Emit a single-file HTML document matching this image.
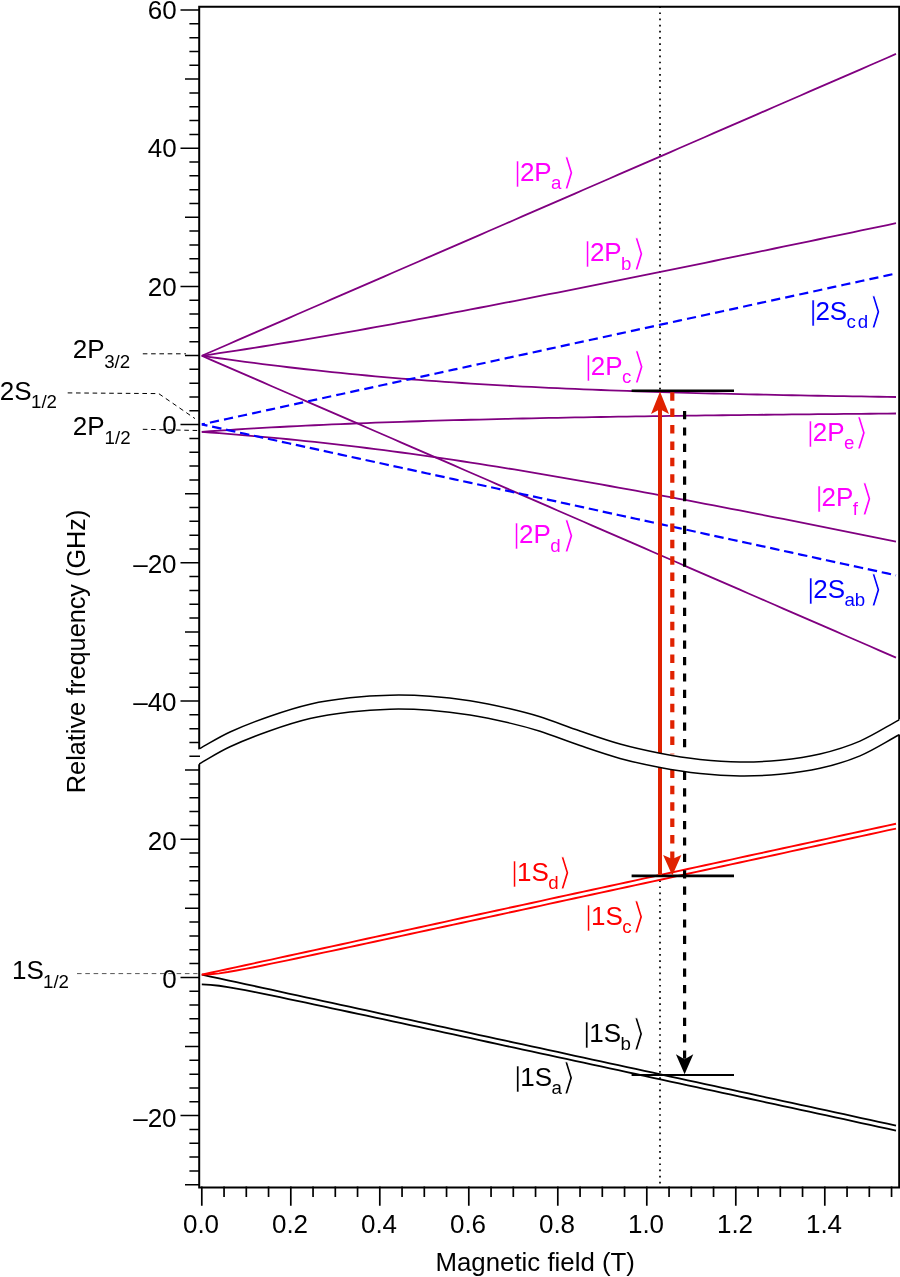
<!DOCTYPE html>
<html lang="en"><head><meta charset="utf-8"><title>Energy levels versus magnetic field</title>
<style>html,body{margin:0;padding:0;background:#fff}svg{display:block}text{font-family:"Liberation Sans","DejaVu Sans",sans-serif}.t{font-size:26px}.s{font-size:18.7px}.k{font-family:"DejaVu Sans",sans-serif;font-size:36.2px;stroke:#fff;stroke-width:1.15px}.v{font-size:27.6px;stroke:#fff;stroke-width:.55px}</style></head><body>
<svg width="900" height="1277" viewBox="0 0 900 1277">
<rect width="900" height="1277" fill="#fff"/>
<line x1="660" y1="6.25" x2="660" y2="1187" stroke="#000" stroke-width="1.7" stroke-dasharray="1.7 4.455"/>
<path d="M142.8 353.8H186" stroke="#000" stroke-width="1" fill="none" stroke-dasharray="4.6 3.7"/>
<path d="M67.7 392.9L158.7 393.6L195 418.6" stroke="#000" stroke-width="1" fill="none" stroke-dasharray="4.6 3.7"/>
<path d="M142.8 429.3L197.5 430.5" stroke="#000" stroke-width="1" fill="none" stroke-dasharray="4.6 3.7"/>
<path d="M77 973.6H197.5" stroke="#555" stroke-width="1" fill="none" stroke-dasharray="4.6 3.7"/>
<polyline points="201.80,355.78 210.48,352.01 219.16,348.24 227.83,344.47 236.51,340.69 245.19,336.92 253.87,333.15 262.54,329.37 271.22,325.60 279.90,321.83 288.58,318.06 297.25,314.28 305.93,310.51 314.61,306.74 323.29,302.96 331.96,299.19 340.64,295.42 349.32,291.65 358.00,287.87 366.67,284.10 375.35,280.33 384.03,276.55 392.71,272.78 401.38,269.01 410.06,265.24 418.74,261.46 427.42,257.69 436.09,253.92 444.77,250.14 453.45,246.37 462.13,242.60 470.80,238.83 479.48,235.05 488.16,231.28 496.84,227.51 505.51,223.73 514.19,219.96 522.87,216.19 531.55,212.42 540.22,208.64 548.90,204.87 557.58,201.10 566.25,197.32 574.93,193.55 583.61,189.78 592.29,186.00 600.97,182.23 609.64,178.46 618.32,174.69 627.00,170.91 635.67,167.14 644.35,163.37 653.03,159.59 661.71,155.82 670.39,152.05 679.06,148.28 687.74,144.50 696.42,140.73 705.10,136.96 713.77,133.18 722.45,129.41 731.13,125.64 739.81,121.87 748.48,118.09 757.16,114.32 765.84,110.55 774.52,106.77 783.19,103.00 791.87,99.23 800.55,95.46 809.22,91.68 817.90,87.91 826.58,84.14 835.26,80.36 843.93,76.59 852.61,72.82 861.29,69.05 869.97,65.27 878.64,61.50 887.32,57.73 896.00,53.95" fill="none" stroke="#800080" stroke-width="1.8"/>
<polyline points="201.80,355.78 210.48,354.52 219.16,353.23 227.83,351.92 236.51,350.59 245.19,349.25 253.87,347.88 262.54,346.50 271.22,345.10 279.90,343.69 288.58,342.26 297.25,340.81 305.93,339.35 314.61,337.88 323.29,336.39 331.96,334.89 340.64,333.37 349.32,331.85 358.00,330.31 366.67,328.76 375.35,327.20 384.03,325.63 392.71,324.04 401.38,322.45 410.06,320.85 418.74,319.24 427.42,317.62 436.09,316.00 444.77,314.36 453.45,312.72 462.13,311.07 470.80,309.42 479.48,307.75 488.16,306.08 496.84,304.41 505.51,302.72 514.19,301.04 522.87,299.34 531.55,297.64 540.22,295.94 548.90,294.23 557.58,292.52 566.25,290.80 574.93,289.07 583.61,287.35 592.29,285.61 600.97,283.88 609.64,282.14 618.32,280.40 627.00,278.65 635.67,276.90 644.35,275.14 653.03,273.39 661.71,271.63 670.39,269.86 679.06,268.10 687.74,266.33 696.42,264.56 705.10,262.78 713.77,261.00 722.45,259.22 731.13,257.44 739.81,255.66 748.48,253.87 757.16,252.08 765.84,250.29 774.52,248.50 783.19,246.70 791.87,244.91 800.55,243.11 809.22,241.31 817.90,239.50 826.58,237.70 835.26,235.89 843.93,234.09 852.61,232.28 861.29,230.47 869.97,228.66 878.64,226.84 887.32,225.03 896.00,223.21" fill="none" stroke="#800080" stroke-width="1.8"/>
<polyline points="201.80,355.78 210.48,357.03 219.16,358.26 227.83,359.46 236.51,360.64 245.19,361.80 253.87,362.94 262.54,364.05 271.22,365.14 279.90,366.20 288.58,367.24 297.25,368.26 305.93,369.25 314.61,370.22 323.29,371.16 331.96,372.08 340.64,372.97 349.32,373.84 358.00,374.68 366.67,375.50 375.35,376.29 384.03,377.07 392.71,377.81 401.38,378.54 410.06,379.24 418.74,379.92 427.42,380.58 436.09,381.21 444.77,381.83 453.45,382.43 462.13,383.00 470.80,383.56 479.48,384.10 488.16,384.62 496.84,385.12 505.51,385.61 514.19,386.08 522.87,386.53 531.55,386.97 540.22,387.40 548.90,387.81 557.58,388.20 566.25,388.59 574.93,388.96 583.61,389.31 592.29,389.66 600.97,390.00 609.64,390.32 618.32,390.63 627.00,390.94 635.67,391.23 644.35,391.52 653.03,391.79 661.71,392.06 670.39,392.32 679.06,392.57 687.74,392.82 696.42,393.05 705.10,393.28 713.77,393.50 722.45,393.72 731.13,393.93 739.81,394.13 748.48,394.33 757.16,394.52 765.84,394.71 774.52,394.89 783.19,395.07 791.87,395.24 800.55,395.41 809.22,395.57 817.90,395.73 826.58,395.88 835.26,396.03 843.93,396.18 852.61,396.32 861.29,396.46 869.97,396.59 878.64,396.73 887.32,396.86 896.00,396.98" fill="none" stroke="#800080" stroke-width="1.8"/>
<polyline points="201.80,355.78 210.48,359.56 219.16,363.33 227.83,367.10 236.51,370.88 245.19,374.65 253.87,378.42 262.54,382.19 271.22,385.97 279.90,389.74 288.58,393.51 297.25,397.29 305.93,401.06 314.61,404.83 323.29,408.60 331.96,412.38 340.64,416.15 349.32,419.92 358.00,423.70 366.67,427.47 375.35,431.24 384.03,435.01 392.71,438.79 401.38,442.56 410.06,446.33 418.74,450.11 427.42,453.88 436.09,457.65 444.77,461.42 453.45,465.20 462.13,468.97 470.80,472.74 479.48,476.52 488.16,480.29 496.84,484.06 505.51,487.83 514.19,491.61 522.87,495.38 531.55,499.15 540.22,502.93 548.90,506.70 557.58,510.47 566.25,514.24 574.93,518.02 583.61,521.79 592.29,525.56 600.97,529.34 609.64,533.11 618.32,536.88 627.00,540.65 635.67,544.43 644.35,548.20 653.03,551.97 661.71,555.75 670.39,559.52 679.06,563.29 687.74,567.06 696.42,570.84 705.10,574.61 713.77,578.38 722.45,582.16 731.13,585.93 739.81,589.70 748.48,593.47 757.16,597.25 765.84,601.02 774.52,604.79 783.19,608.57 791.87,612.34 800.55,616.11 809.22,619.88 817.90,623.66 826.58,627.43 835.26,631.20 843.93,634.98 852.61,638.75 861.29,642.52 869.97,646.29 878.64,650.07 887.32,653.84 896.00,657.61" fill="none" stroke="#800080" stroke-width="1.8"/>
<polyline points="201.80,431.86 210.48,431.24 219.16,430.65 227.83,430.07 236.51,429.51 245.19,428.97 253.87,428.44 262.54,427.94 271.22,427.45 279.90,426.98 288.58,426.52 297.25,426.08 305.93,425.66 314.61,425.25 323.29,424.85 331.96,424.46 340.64,424.09 349.32,423.73 358.00,423.38 366.67,423.05 375.35,422.72 384.03,422.41 392.71,422.10 401.38,421.81 410.06,421.52 418.74,421.24 427.42,420.97 436.09,420.71 444.77,420.46 453.45,420.22 462.13,419.98 470.80,419.75 479.48,419.53 488.16,419.31 496.84,419.10 505.51,418.90 514.19,418.70 522.87,418.51 531.55,418.32 540.22,418.14 548.90,417.96 557.58,417.79 566.25,417.62 574.93,417.46 583.61,417.30 592.29,417.14 600.97,416.99 609.64,416.85 618.32,416.70 627.00,416.56 635.67,416.43 644.35,416.29 653.03,416.17 661.71,416.04 670.39,415.92 679.06,415.80 687.74,415.68 696.42,415.56 705.10,415.45 713.77,415.34 722.45,415.24 731.13,415.13 739.81,415.03 748.48,414.93 757.16,414.83 765.84,414.74 774.52,414.64 783.19,414.55 791.87,414.46 800.55,414.37 809.22,414.29 817.90,414.21 826.58,414.12 835.26,414.04 843.93,413.96 852.61,413.89 861.29,413.81 869.97,413.74 878.64,413.66 887.32,413.59 896.00,413.52" fill="none" stroke="#800080" stroke-width="1.8"/>
<polyline points="201.80,431.86 210.48,432.50 219.16,433.16 227.83,433.85 236.51,434.55 245.19,435.28 253.87,436.03 262.54,436.80 271.22,437.60 279.90,438.42 288.58,439.27 297.25,440.14 305.93,441.03 314.61,441.95 323.29,442.90 331.96,443.87 340.64,444.86 349.32,445.88 358.00,446.92 366.67,447.99 375.35,449.08 384.03,450.20 392.71,451.33 401.38,452.50 410.06,453.68 418.74,454.89 427.42,456.12 436.09,457.37 444.77,458.64 453.45,459.93 462.13,461.24 470.80,462.57 479.48,463.91 488.16,465.28 496.84,466.66 505.51,468.06 514.19,469.48 522.87,470.91 531.55,472.36 540.22,473.82 548.90,475.30 557.58,476.79 566.25,478.29 574.93,479.81 583.61,481.33 592.29,482.87 600.97,484.43 609.64,485.99 618.32,487.56 627.00,489.14 635.67,490.73 644.35,492.34 653.03,493.95 661.71,495.57 670.39,497.19 679.06,498.83 687.74,500.47 696.42,502.12 705.10,503.78 713.77,505.44 722.45,507.11 731.13,508.79 739.81,510.47 748.48,512.16 757.16,513.86 765.84,515.56 774.52,517.26 783.19,518.97 791.87,520.69 800.55,522.40 809.22,524.13 817.90,525.86 826.58,527.59 835.26,529.33 843.93,531.07 852.61,532.81 861.29,534.56 869.97,536.31 878.64,538.06 887.32,539.82 896.00,541.58" fill="none" stroke="#800080" stroke-width="1.8"/>
<polyline points="201.80,424.40 210.48,422.51 219.16,420.63 227.83,418.74 236.51,416.85 245.19,414.97 253.87,413.08 262.54,411.19 271.22,409.31 279.90,407.42 288.58,405.54 297.25,403.65 305.93,401.76 314.61,399.88 323.29,397.99 331.96,396.10 340.64,394.22 349.32,392.33 358.00,390.44 366.67,388.56 375.35,386.67 384.03,384.78 392.71,382.90 401.38,381.01 410.06,379.13 418.74,377.24 427.42,375.35 436.09,373.47 444.77,371.58 453.45,369.69 462.13,367.81 470.80,365.92 479.48,364.03 488.16,362.15 496.84,360.26 505.51,358.37 514.19,356.49 522.87,354.60 531.55,352.72 540.22,350.83 548.90,348.94 557.58,347.06 566.25,345.17 574.93,343.28 583.61,341.40 592.29,339.51 600.97,337.62 609.64,335.74 618.32,333.85 627.00,331.96 635.67,330.08 644.35,328.19 653.03,326.31 661.71,324.42 670.39,322.53 679.06,320.65 687.74,318.76 696.42,316.87 705.10,314.99 713.77,313.10 722.45,311.21 731.13,309.33 739.81,307.44 748.48,305.55 757.16,303.67 765.84,301.78 774.52,299.90 783.19,298.01 791.87,296.12 800.55,294.24 809.22,292.35 817.90,290.46 826.58,288.58 835.26,286.69 843.93,284.80 852.61,282.92 861.29,281.03 869.97,279.14 878.64,277.26 887.32,275.37 896.00,273.49" fill="none" stroke="#0000ff" stroke-width="2.2" stroke-dasharray="9.2 5.158" stroke-dashoffset="-8.36"/>
<polyline points="201.80,424.40 210.48,426.29 219.16,428.17 227.83,430.06 236.51,431.95 245.19,433.83 253.87,435.72 262.54,437.61 271.22,439.49 279.90,441.38 288.58,443.26 297.25,445.15 305.93,447.04 314.61,448.92 323.29,450.81 331.96,452.70 340.64,454.58 349.32,456.47 358.00,458.36 366.67,460.24 375.35,462.13 384.03,464.02 392.71,465.90 401.38,467.79 410.06,469.67 418.74,471.56 427.42,473.45 436.09,475.33 444.77,477.22 453.45,479.11 462.13,480.99 470.80,482.88 479.48,484.77 488.16,486.65 496.84,488.54 505.51,490.43 514.19,492.31 522.87,494.20 531.55,496.08 540.22,497.97 548.90,499.86 557.58,501.74 566.25,503.63 574.93,505.52 583.61,507.40 592.29,509.29 600.97,511.18 609.64,513.06 618.32,514.95 627.00,516.84 635.67,518.72 644.35,520.61 653.03,522.49 661.71,524.38 670.39,526.27 679.06,528.15 687.74,530.04 696.42,531.93 705.10,533.81 713.77,535.70 722.45,537.59 731.13,539.47 739.81,541.36 748.48,543.25 757.16,545.13 765.84,547.02 774.52,548.90 783.19,550.79 791.87,552.68 800.55,554.56 809.22,556.45 817.90,558.34 826.58,560.22 835.26,562.11 843.93,564.00 852.61,565.88 861.29,567.77 869.97,569.66 878.64,571.54 887.32,573.43 896.00,575.31" fill="none" stroke="#0000ff" stroke-width="2.2" stroke-dasharray="9.5 4.776" stroke-dashoffset="-10.56"/>
<polyline points="201.80,974.65 210.48,976.53 219.16,978.42 227.83,980.31 236.51,982.19 245.19,984.08 253.87,985.97 262.54,987.85 271.22,989.74 279.90,991.62 288.58,993.51 297.25,995.40 305.93,997.28 314.61,999.17 323.29,1001.06 331.96,1002.94 340.64,1004.83 349.32,1006.72 358.00,1008.60 366.67,1010.49 375.35,1012.38 384.03,1014.26 392.71,1016.15 401.38,1018.03 410.06,1019.92 418.74,1021.81 427.42,1023.69 436.09,1025.58 444.77,1027.47 453.45,1029.35 462.13,1031.24 470.80,1033.13 479.48,1035.01 488.16,1036.90 496.84,1038.79 505.51,1040.67 514.19,1042.56 522.87,1044.44 531.55,1046.33 540.22,1048.22 548.90,1050.10 557.58,1051.99 566.25,1053.88 574.93,1055.76 583.61,1057.65 592.29,1059.54 600.97,1061.42 609.64,1063.31 618.32,1065.20 627.00,1067.08 635.67,1068.97 644.35,1070.85 653.03,1072.74 661.71,1074.63 670.39,1076.51 679.06,1078.40 687.74,1080.29 696.42,1082.17 705.10,1084.06 713.77,1085.95 722.45,1087.83 731.13,1089.72 739.81,1091.61 748.48,1093.49 757.16,1095.38 765.84,1097.26 774.52,1099.15 783.19,1101.04 791.87,1102.92 800.55,1104.81 809.22,1106.70 817.90,1108.58 826.58,1110.47 835.26,1112.36 843.93,1114.24 852.61,1116.13 861.29,1118.02 869.97,1119.90 878.64,1121.79 887.32,1123.67 896.00,1125.56" fill="none" stroke="#000" stroke-width="1.8"/>
<polyline points="201.80,984.46 210.48,984.81 219.16,985.74 227.83,987.04 236.51,988.55 245.19,990.18 253.87,991.89 262.54,993.64 271.22,995.42 279.90,997.23 288.58,999.04 297.25,1000.88 305.93,1002.72 314.61,1004.56 323.29,1006.41 331.96,1008.27 340.64,1010.13 349.32,1012.00 358.00,1013.86 366.67,1015.73 375.35,1017.60 384.03,1019.47 392.71,1021.34 401.38,1023.22 410.06,1025.09 418.74,1026.97 427.42,1028.84 436.09,1030.72 444.77,1032.60 453.45,1034.48 462.13,1036.36 470.80,1038.24 479.48,1040.12 488.16,1042.00 496.84,1043.88 505.51,1045.76 514.19,1047.64 522.87,1049.52 531.55,1051.41 540.22,1053.29 548.90,1055.17 557.58,1057.05 566.25,1058.93 574.93,1060.82 583.61,1062.70 592.29,1064.58 600.97,1066.47 609.64,1068.35 618.32,1070.23 627.00,1072.12 635.67,1074.00 644.35,1075.89 653.03,1077.77 661.71,1079.65 670.39,1081.54 679.06,1083.42 687.74,1085.31 696.42,1087.19 705.10,1089.08 713.77,1090.96 722.45,1092.85 731.13,1094.73 739.81,1096.61 748.48,1098.50 757.16,1100.38 765.84,1102.27 774.52,1104.15 783.19,1106.04 791.87,1107.92 800.55,1109.81 809.22,1111.69 817.90,1113.58 826.58,1115.46 835.26,1117.35 843.93,1119.24 852.61,1121.12 861.29,1123.01 869.97,1124.89 878.64,1126.78 887.32,1128.66 896.00,1130.55" fill="none" stroke="#000" stroke-width="1.8"/>
<polyline points="201.80,974.65 210.48,972.76 219.16,970.87 227.83,968.99 236.51,967.10 245.19,965.21 253.87,963.33 262.54,961.44 271.22,959.56 279.90,957.67 288.58,955.78 297.25,953.90 305.93,952.01 314.61,950.12 323.29,948.24 331.96,946.35 340.64,944.46 349.32,942.58 358.00,940.69 366.67,938.80 375.35,936.92 384.03,935.03 392.71,933.15 401.38,931.26 410.06,929.37 418.74,927.49 427.42,925.60 436.09,923.71 444.77,921.83 453.45,919.94 462.13,918.05 470.80,916.17 479.48,914.28 488.16,912.39 496.84,910.51 505.51,908.62 514.19,906.74 522.87,904.85 531.55,902.96 540.22,901.08 548.90,899.19 557.58,897.30 566.25,895.42 574.93,893.53 583.61,891.64 592.29,889.76 600.97,887.87 609.64,885.98 618.32,884.10 627.00,882.21 635.67,880.33 644.35,878.44 653.03,876.55 661.71,874.67 670.39,872.78 679.06,870.89 687.74,869.01 696.42,867.12 705.10,865.23 713.77,863.35 722.45,861.46 731.13,859.57 739.81,857.69 748.48,855.80 757.16,853.92 765.84,852.03 774.52,850.14 783.19,848.26 791.87,846.37 800.55,844.48 809.22,842.60 817.90,840.71 826.58,838.82 835.26,836.94 843.93,835.05 852.61,833.16 861.29,831.28 869.97,829.39 878.64,827.51 887.32,825.62 896.00,823.73" fill="none" stroke="#ff0000" stroke-width="1.9"/>
<polyline points="201.80,974.65 210.48,974.30 219.16,973.36 227.83,972.06 236.51,970.55 245.19,968.92 253.87,967.22 262.54,965.47 271.22,963.68 279.90,961.88 288.58,960.06 297.25,958.23 305.93,956.39 314.61,954.54 323.29,952.69 331.96,950.83 340.64,948.97 349.32,947.11 358.00,945.24 366.67,943.38 375.35,941.51 384.03,939.64 392.71,937.76 401.38,935.89 410.06,934.01 418.74,932.14 427.42,930.26 436.09,928.38 444.77,926.51 453.45,924.63 462.13,922.75 470.80,920.87 479.48,918.99 488.16,917.11 496.84,915.23 505.51,913.35 514.19,911.46 522.87,909.58 531.55,907.70 540.22,905.82 548.90,903.94 557.58,902.05 566.25,900.17 574.93,898.29 583.61,896.41 592.29,894.52 600.97,892.64 609.64,890.76 618.32,888.87 627.00,886.99 635.67,885.10 644.35,883.22 653.03,881.34 661.71,879.45 670.39,877.57 679.06,875.68 687.74,873.80 696.42,871.91 705.10,870.03 713.77,868.15 722.45,866.26 731.13,864.38 739.81,862.49 748.48,860.61 757.16,858.72 765.84,856.84 774.52,854.95 783.19,853.07 791.87,851.18 800.55,849.30 809.22,847.41 817.90,845.53 826.58,843.64 835.26,841.76 843.93,839.87 852.61,837.99 861.29,836.10 869.97,834.22 878.64,832.33 887.32,830.44 896.00,828.56" fill="none" stroke="#ff0000" stroke-width="1.9"/>
<line x1="631.6" y1="390.7" x2="734" y2="390.7" stroke="#000" stroke-width="2.4"/>
<line x1="631.6" y1="875.9" x2="734" y2="875.9" stroke="#000" stroke-width="2.8"/>
<line x1="631.6" y1="1075.0" x2="734" y2="1075.0" stroke="#000" stroke-width="2.2"/>
<line x1="660" y1="875" x2="660" y2="405" stroke="#e02200" stroke-width="4"/>
<path d="M660.0 391.6L651.0 414.0L660.0 409.2L669.0 414.0Z" fill="#e02200"/>
<line x1="672.3" y1="392.2" x2="672.3" y2="750" stroke="#e02200" stroke-width="4.2" stroke-dasharray="8.5 7.9"/>
<rect x="670.2" y="753" width="4.2" height="2.2" fill="#f7a999"/>
<line x1="672.3" y1="769.4" x2="672.3" y2="860" stroke="#e02200" stroke-width="4.2" stroke-dasharray="8.5 7.9"/>
<path d="M672.3 875.4L663.1 854.9L672.3 858.9L681.4 854.9Z" fill="#e02200"/>
<line x1="684.6" y1="411" x2="684.6" y2="750" stroke="#000" stroke-width="3.2" stroke-dasharray="8.2 8.2"/>
<line x1="684.6" y1="771.8" x2="684.6" y2="1060" stroke="#000" stroke-width="3.2" stroke-dasharray="8.2 8.2"/>
<path d="M684.6 1074.2L675.9 1054.2L684.6 1059.2L693.3 1054.2Z" fill="#000"/>
<path d="M199.2 6.8H899.2V1187.4H199.2Z" fill="none" stroke="#000" stroke-width="2"/>
<path d="M196.20 750.70C207.47 744.47 217.70 737.75 230.00 732.00C242.30 726.25 256.67 720.83 270.00 716.20C283.33 711.57 296.67 707.27 310.00 704.20C323.33 701.13 336.67 699.30 350.00 697.80C363.33 696.30 376.67 695.47 390.00 695.20C403.33 694.93 416.67 695.27 430.00 696.20C443.33 697.13 456.67 698.70 470.00 700.80C483.33 702.90 498.33 706.13 510.00 708.80C521.67 711.47 528.33 713.10 540.00 716.80C551.67 720.50 566.67 726.47 580.00 731.00C593.33 735.53 606.67 740.30 620.00 744.00C633.33 747.70 646.67 750.63 660.00 753.20C673.33 755.77 686.67 757.93 700.00 759.40C713.33 760.87 726.67 761.87 740.00 762.00C753.33 762.13 766.67 761.53 780.00 760.20C793.33 758.87 806.67 757.18 820.00 754.00C833.33 750.82 846.30 747.08 860.00 741.10C873.70 735.12 888.13 725.77 902.20 718.10L902.20 733.03C888.13 740.63 873.70 749.93 860.00 755.82C846.30 761.71 833.33 765.28 820.00 768.35C806.67 771.43 793.33 773.03 780.00 774.29C766.67 775.55 753.33 776.05 740.00 775.92C726.67 775.79 713.33 774.92 700.00 773.51C686.67 772.10 673.33 769.98 660.00 767.47C646.67 764.95 633.33 762.08 620.00 758.43C606.67 754.77 593.33 750.07 580.00 745.55C566.67 741.03 551.67 735.04 540.00 731.30C528.33 727.57 521.67 725.85 510.00 723.13C498.33 720.42 483.33 717.15 470.00 715.00C456.67 712.85 443.33 711.21 430.00 710.23C416.67 709.26 403.33 708.86 390.00 709.14C376.67 709.42 363.33 710.35 350.00 711.91C336.67 713.48 323.33 715.40 310.00 718.54C296.67 721.68 283.33 726.05 270.00 730.76C256.67 735.47 242.30 740.96 230.00 746.78C217.70 752.59 207.47 759.35 196.20 765.64Z" fill="#fff"/>
<path d="M199.20 748.90C209.47 743.27 218.20 737.45 230.00 732.00C241.80 726.55 256.67 720.83 270.00 716.20C283.33 711.57 296.67 707.27 310.00 704.20C323.33 701.13 336.67 699.30 350.00 697.80C363.33 696.30 376.67 695.47 390.00 695.20C403.33 694.93 416.67 695.27 430.00 696.20C443.33 697.13 456.67 698.70 470.00 700.80C483.33 702.90 498.33 706.13 510.00 708.80C521.67 711.47 528.33 713.10 540.00 716.80C551.67 720.50 566.67 726.47 580.00 731.00C593.33 735.53 606.67 740.30 620.00 744.00C633.33 747.70 646.67 750.63 660.00 753.20C673.33 755.77 686.67 757.93 700.00 759.40C713.33 760.87 726.67 761.87 740.00 762.00C753.33 762.13 766.67 761.53 780.00 760.20C793.33 758.87 806.67 757.18 820.00 754.00C833.33 750.82 846.80 746.80 860.00 741.10C873.20 735.40 886.13 726.90 899.20 719.80" fill="none" stroke="#000" stroke-width="1.5"/>
<path d="M199.20 763.84C209.47 758.15 218.20 752.29 230.00 746.78C241.80 741.26 256.67 735.47 270.00 730.76C283.33 726.05 296.67 721.68 310.00 718.54C323.33 715.40 336.67 713.48 350.00 711.91C363.33 710.35 376.67 709.42 390.00 709.14C403.33 708.86 416.67 709.26 430.00 710.23C443.33 711.21 456.67 712.85 470.00 715.00C483.33 717.15 498.33 720.42 510.00 723.13C521.67 725.85 528.33 727.57 540.00 731.30C551.67 735.04 566.67 741.03 580.00 745.55C593.33 750.07 606.67 754.77 620.00 758.43C633.33 762.08 646.67 764.95 660.00 767.47C673.33 769.98 686.67 772.10 700.00 773.51C713.33 774.92 726.67 775.79 740.00 775.92C753.33 776.05 766.67 775.55 780.00 774.29C793.33 773.03 806.67 771.43 820.00 768.35C833.33 765.28 846.80 761.42 860.00 755.82C873.20 750.22 886.13 741.76 899.20 734.73" fill="none" stroke="#000" stroke-width="1.5"/>
<path d="M180.5 10.00H200.0M189.4 23.82H200.0M189.4 37.64H200.0M189.4 51.46H200.0M189.4 65.28H200.0M185.0 79.10H200.0M189.4 92.92H200.0M189.4 106.74H200.0M189.4 120.56H200.0M189.4 134.38H200.0M180.5 148.20H200.0M189.4 162.02H200.0M189.4 175.84H200.0M189.4 189.66H200.0M189.4 203.48H200.0M185.0 217.30H200.0M189.4 231.12H200.0M189.4 244.94H200.0M189.4 258.76H200.0M189.4 272.58H200.0M180.5 286.40H200.0M189.4 300.22H200.0M189.4 314.04H200.0M189.4 327.86H200.0M189.4 341.68H200.0M185.0 355.50H200.0M189.4 369.32H200.0M189.4 383.14H200.0M189.4 396.96H200.0M189.4 410.78H200.0M180.5 424.60H200.0M189.4 438.42H200.0M189.4 452.24H200.0M189.4 466.06H200.0M189.4 479.88H200.0M185.0 493.70H200.0M189.4 507.52H200.0M189.4 521.34H200.0M189.4 535.16H200.0M189.4 548.98H200.0M180.5 562.80H200.0M189.4 576.62H200.0M189.4 590.44H200.0M189.4 604.26H200.0M189.4 618.08H200.0M185.0 631.90H200.0M189.4 645.72H200.0M189.4 659.54H200.0M189.4 673.36H200.0M189.4 687.18H200.0M180.5 701.00H200.0M189.4 714.82H200.0M189.4 728.64H200.0M189.4 742.46H200.0M189.4 756.28H200.0M185.0 770.10H200.0M189.4 783.92H200.0M189.4 797.74H200.0M189.4 811.56H200.0M189.4 825.38H200.0M180.5 839.20H200.0M189.4 853.02H200.0M189.4 866.84H200.0M189.4 880.66H200.0M189.4 894.48H200.0M185.0 908.30H200.0M189.4 922.12H200.0M189.4 935.94H200.0M189.4 949.76H200.0M189.4 963.58H200.0M180.5 977.40H200.0M189.4 991.22H200.0M189.4 1005.04H200.0M189.4 1018.86H200.0M189.4 1032.68H200.0M185.0 1046.50H200.0M189.4 1060.32H200.0M189.4 1074.14H200.0M189.4 1087.96H200.0M189.4 1101.78H200.0M180.5 1115.60H200.0M189.4 1129.42H200.0M189.4 1143.24H200.0M189.4 1157.06H200.0M189.4 1170.88H200.0M185.0 1184.70H200.0" stroke="#000" stroke-width="1.5" fill="none"/>
<path d="M201.80 1186.6V1205.8M224.05 1186.6V1197.0M246.30 1186.6V1197.0M268.55 1186.6V1197.0M290.80 1186.6V1205.8M313.05 1186.6V1197.0M335.30 1186.6V1197.0M357.55 1186.6V1197.0M379.80 1186.6V1205.8M402.05 1186.6V1197.0M424.30 1186.6V1197.0M446.55 1186.6V1197.0M468.80 1186.6V1205.8M491.05 1186.6V1197.0M513.30 1186.6V1197.0M535.55 1186.6V1197.0M557.80 1186.6V1205.8M580.05 1186.6V1197.0M602.30 1186.6V1197.0M624.55 1186.6V1197.0M646.80 1186.6V1205.8M669.05 1186.6V1197.0M691.30 1186.6V1197.0M713.55 1186.6V1197.0M735.80 1186.6V1205.8M758.05 1186.6V1197.0M780.30 1186.6V1197.0M802.55 1186.6V1197.0M824.80 1186.6V1205.8M847.05 1186.6V1197.0M869.30 1186.6V1197.0M891.55 1186.6V1197.0" stroke="#000" stroke-width="1.7" fill="none"/>
<text class="t" x="176.6" y="18.9" text-anchor="end">60</text>
<text class="t" x="176.6" y="157.4" text-anchor="end">40</text>
<text class="t" x="176.6" y="295.8" text-anchor="end">20</text>
<text class="t" x="176.6" y="434.3" text-anchor="end">0</text>
<text class="t" x="176.6" y="572.8" text-anchor="end">–20</text>
<text class="t" x="176.6" y="711.2" text-anchor="end">–40</text>
<text class="t" x="176.6" y="849.7" text-anchor="end">20</text>
<text class="t" x="176.6" y="988.2" text-anchor="end">0</text>
<text class="t" x="176.6" y="1126.7" text-anchor="end">–20</text>
<text class="t" x="201.0" y="1233.3" text-anchor="middle">0.0</text>
<text class="t" x="290.0" y="1233.3" text-anchor="middle">0.2</text>
<text class="t" x="379.0" y="1233.3" text-anchor="middle">0.4</text>
<text class="t" x="468.0" y="1233.3" text-anchor="middle">0.6</text>
<text class="t" x="557.0" y="1233.3" text-anchor="middle">0.8</text>
<text class="t" x="646.0" y="1233.3" text-anchor="middle">1.0</text>
<text class="t" x="735.0" y="1233.3" text-anchor="middle">1.2</text>
<text class="t" x="824.0" y="1233.3" text-anchor="middle">1.4</text>
<text class="t" x="535.2" y="1271.4" text-anchor="middle" textLength="199.4" lengthAdjust="spacingAndGlyphs">Magnetic field (T)</text>
<text class="t" transform="translate(85.2 651.4) rotate(-90)" text-anchor="middle" textLength="283.5" lengthAdjust="spacingAndGlyphs">Relative frequency (GHz)</text>
<text class="t" x="72.8" y="358.2">2P<tspan class="s" x="104.2" dy="9.5">3/2</tspan></text>
<text class="t" x="-0.2" y="399.5">2S<tspan class="s" x="31.0" dy="8.8">1/2</tspan></text>
<text class="t" x="72.8" y="435.1">2P<tspan class="s" x="104.6" dy="9.1">1/2</tspan></text>
<text class="t" x="12.0" y="979.0">1S<tspan class="s" x="43.0" dy="8.8">1/2</tspan></text>
<g fill="#ff00ff">
<text class="v" x="517.5" y="181.0" text-anchor="middle">|</text>
<text class="t" x="519.9" y="181.0">2P</text>
<text class="s" x="551.1" y="189.4">a</text>
<text class="k" x="562.0" y="184.3">⟩</text>
</g>
<g fill="#ff00ff">
<text class="v" x="587.5" y="261.2" text-anchor="middle">|</text>
<text class="t" x="589.9" y="261.2">2P</text>
<text class="s" x="621.1" y="269.6">b</text>
<text class="k" x="632.0" y="264.5">⟩</text>
</g>
<g fill="#ff00ff">
<text class="v" x="588.3" y="375.0" text-anchor="middle">|</text>
<text class="t" x="590.7" y="375.0">2P</text>
<text class="s" x="621.9" y="383.4">c</text>
<text class="k" x="632.3" y="378.3">⟩</text>
</g>
<g fill="#ff00ff">
<text class="v" x="516.7" y="543.4" text-anchor="middle">|</text>
<text class="t" x="519.1" y="543.4">2P</text>
<text class="s" x="550.3" y="551.8">d</text>
<text class="k" x="562.0" y="546.7">⟩</text>
</g>
<g fill="#ff00ff">
<text class="v" x="810.4" y="441.0" text-anchor="middle">|</text>
<text class="t" x="812.8" y="441.0">2P</text>
<text class="s" x="844.0" y="449.4">e</text>
<text class="k" x="854.6" y="444.3">⟩</text>
</g>
<g fill="#ff00ff">
<text class="v" x="819.1" y="506.4" text-anchor="middle">|</text>
<text class="t" x="821.5" y="506.4">2P</text>
<text class="s" x="852.7" y="514.8">f</text>
<text class="k" x="859.9" y="509.7">⟩</text>
</g>
<g fill="#0000ff">
<text class="v" x="813.0" y="319.7" text-anchor="middle">|</text>
<text class="t" x="815.4" y="319.7">2S</text>
<text class="s" x="846.6" y="328.1" letter-spacing="1.7">cd</text>
<text class="k" x="869.0" y="323.0">⟩</text>
</g>
<g fill="#0000ff">
<text class="v" x="810.8" y="597.7" text-anchor="middle">|</text>
<text class="t" x="813.2" y="597.7">2S</text>
<text class="s" x="844.4" y="606.1">ab</text>
<text class="k" x="869.0" y="601.0">⟩</text>
</g>
<g fill="#ff0000">
<text class="v" x="514.7" y="880.5" text-anchor="middle">|</text>
<text class="t" x="517.1" y="880.5">1S</text>
<text class="s" x="548.3" y="888.9">d</text>
<text class="k" x="558.0" y="883.8">⟩</text>
</g>
<g fill="#ff0000">
<text class="v" x="588.7" y="924.5" text-anchor="middle">|</text>
<text class="t" x="591.1" y="924.5">1S</text>
<text class="s" x="622.3" y="932.9">c</text>
<text class="k" x="631.8" y="927.8">⟩</text>
</g>
<g fill="#000">
<text class="v" x="586.9" y="1041.7" text-anchor="middle">|</text>
<text class="t" x="589.3" y="1041.7">1S</text>
<text class="s" x="620.5" y="1050.1">b</text>
<text class="k" x="631.8" y="1045.0">⟩</text>
</g>
<g fill="#000">
<text class="v" x="517.8" y="1085.6" text-anchor="middle">|</text>
<text class="t" x="520.2" y="1085.6">1S</text>
<text class="s" x="551.4" y="1094.0">a</text>
<text class="k" x="561.7" y="1088.9">⟩</text>
</g>
</svg></body></html>
